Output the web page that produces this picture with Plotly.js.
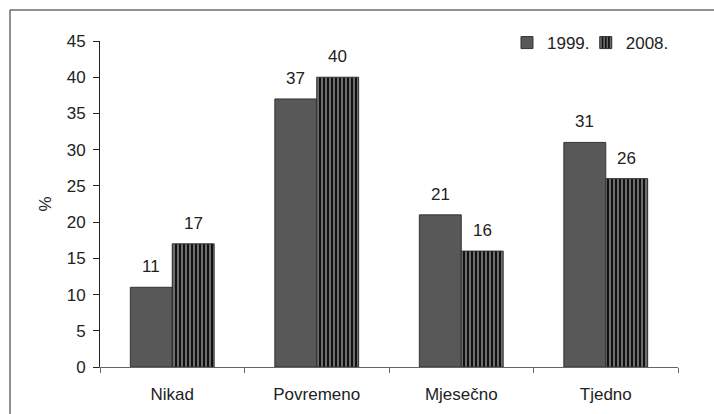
<!DOCTYPE html>
<html><head><meta charset="utf-8">
<script src="https://cdn.plot.ly/plotly-3.0.1.min.js"></script>
<style>html,body{margin:0;padding:0;background:#fff;}#c{width:714px;height:414px;}</style>
</head><body><div id="c"></div>
<script>
const categories = ["Nikad", "Povremeno", "Mjesečno", "Tjedno"];
const values1999 = [11, 37, 21, 31];
const values2008 = [17, 40, 16, 26];
const seriesNames = ["1999.", "2008."];
const yTicks = [0,5,10,15,20,25,30,35,40,45];

const font = {family: "Liberation Sans, Arial, sans-serif", size: 17, color: "#222"};
const traces = [
  {type: "bar", name: seriesNames[0], x: categories, y: values1999, legend: "legend",
   marker: {color: "#585858", line: {color: "#333", width: 1}}},
  {type: "bar", name: seriesNames[1], x: categories, y: values2008, legend: "legend2",
   marker: {color: "#111", line: {color: "#333", width: 1},
            pattern: {shape: "|", fgcolor: "#aaa", bgcolor: "#111", size: 4, solidity: 0.3}}}
];
const annotations = [];
categories.forEach((c, i) => {
  annotations.push({x: c, y: values1999[i], xref: "x", yref: "y", text: String(values1999[i]),
    showarrow: false, xshift: -21, yshift: 9, yanchor: "bottom", font: font});
  annotations.push({x: c, y: values2008[i], xref: "x", yref: "y", text: String(values2008[i]),
    showarrow: false, xshift: 21, yshift: 9, yanchor: "bottom", font: font});
});
const legendBase = {orientation: "h", y: 1.049, xanchor: "left", yanchor: "top",
  font: font, itemwidth: 30, bgcolor: "rgba(0,0,0,0)"};
const layout = {
  width: 714, height: 414,
  margin: {l: 100, r: 36, t: 41, b: 47, autoexpand: false},
  paper_bgcolor: "#fff", plot_bgcolor: "#fff",
  font: font,
  barmode: "group", bargap: 0.42, bargroupgap: 0,
  showlegend: true,
  legend: Object.assign({}, legendBase, {x: 0.7041}),
  legend2: Object.assign({}, legendBase, {x: 0.8404}),
  annotations: annotations,
  xaxis: {showline: true, linecolor: "#666", linewidth: 1, ticks: "outside",
          tickson: "boundaries", ticklen: 5, tickcolor: "#666", showgrid: false,
          tickfont: font, fixedrange: true, ticklabelstandoff: 12},
  yaxis: {range: [0, 45], tickvals: yTicks, showline: true, linecolor: "#222", linewidth: 1,
          ticks: "outside", ticklen: 6, tickcolor: "#222", showgrid: false, zeroline: false,
          tickfont: font, ticklabelstandoff: 4,
          title: {text: "%", font: font, standoff: 10}, fixedrange: true},
  shapes: [{type: "rect", xref: "paper", yref: "paper",
            x0: (10-100)/578, x1: (760-100)/578, y0: (367-460)/326, y1: (367-10)/326,
            line: {color: "#222", width: 1}, fillcolor: "rgba(0,0,0,0)", layer: "below"}]
};
Plotly.newPlot("c", traces, layout, {displayModeBar: false, staticPlot: true});
</script></body></html>
